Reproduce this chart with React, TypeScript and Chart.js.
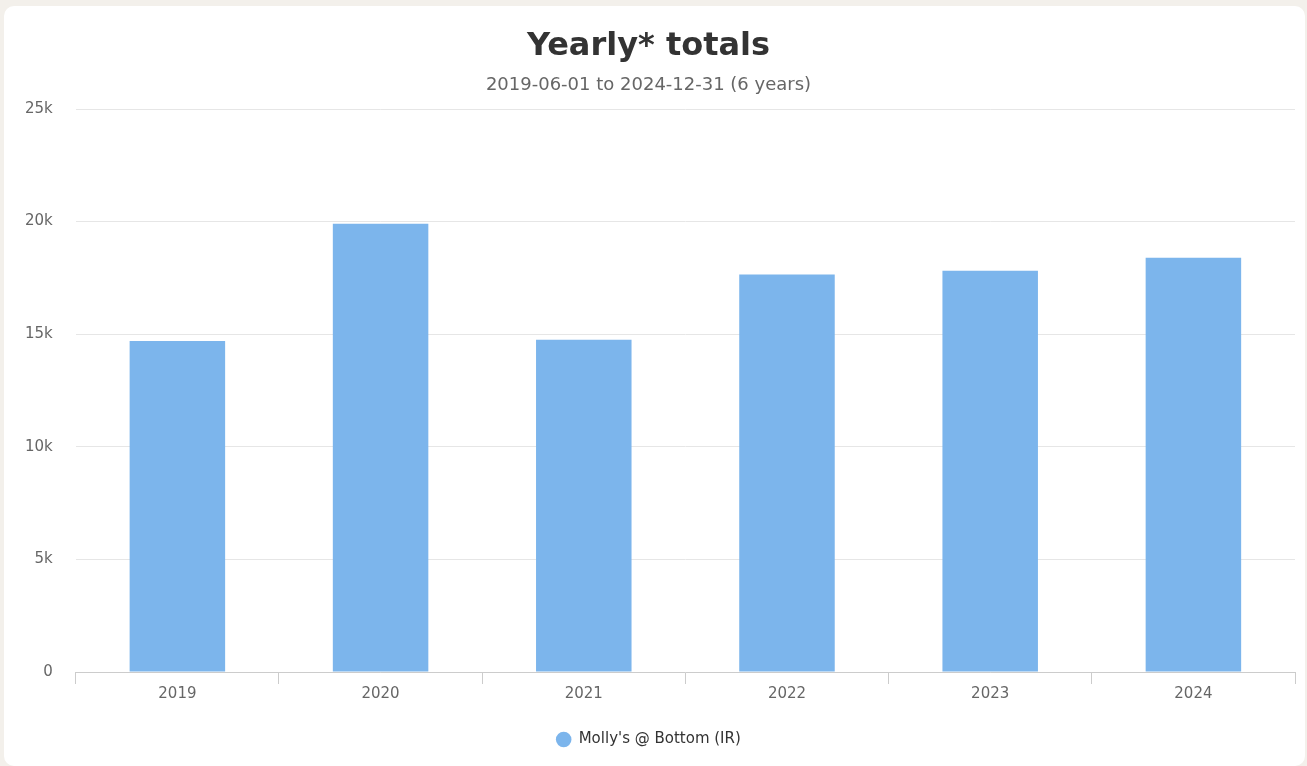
import React, { useEffect, useRef } from "react";
import { Chart, registerables } from "chart.js";

Chart.register(...registerables);

const categories = ["2019", "2020", "2021", "2022", "2023", "2024"];
const seriesName = "Molly's @ Bottom (IR)";
const seriesValues = [14700, 19900, 14750, 17650, 17820, 18400];
const titleText = "Yearly* totals";
const subtitleText = "2019-06-01 to 2024-12-31 (6 years)";
const yTicks = [0, 5000, 10000, 15000, 20000, 25000];

const FONT = "'DejaVu Sans', 'Lucida Grande', Arial, sans-serif";

export default function App() {
  const ref = useRef<HTMLCanvasElement | null>(null);

  useEffect(() => {
    if (!ref.current) return;
    const chart = new Chart(ref.current, {
      type: "bar",
      data: {
        labels: categories,
        datasets: [
          {
            label: seriesName,
            data: seriesValues,
            backgroundColor: "#7cb5ec",
            borderWidth: 0,
            barPercentage: 0.47,
            categoryPercentage: 1,
          },
        ],
      },
      options: {
        responsive: false,
        animation: false,
        maintainAspectRatio: false,
        layout: { padding: { left: -2, right: 10, top: 0, bottom: 9 } },
        plugins: {
          title: {
            display: true,
            text: titleText,
            color: "#333333",
            font: { family: FONT, size: 32, weight: "bold" },
            padding: { top: 21, bottom: 9 },
          },
          subtitle: {
            display: true,
            text: subtitleText,
            color: "#666666",
            font: { family: FONT, size: 18 },
            padding: { top: 0, bottom: 13 },
          },
          legend: {
            position: "bottom",
            labels: {
              usePointStyle: true,
              pointStyle: "circle",
              boxWidth: 18,
              boxHeight: 11,
              color: "#333333",
              font: { family: FONT, size: 15 },
              padding: 28,
            },
          },
          tooltip: { enabled: false },
        },
        scales: {
          x: {
            grid: {
              display: true,
              offset: true,
              drawOnChartArea: false,
              drawTicks: true,
              tickLength: 12,
              color: "#cccccc",
            },
            border: { display: true, color: "#cccccc" },
            ticks: {
              color: "#666666",
              font: { family: FONT, size: 15 },
              padding: 1,
            },
          },
          y: {
            min: 0,
            max: 25000,
            afterBuildTicks: (axis: any) => {
              axis.ticks = yTicks.map((v) => ({ value: v }));
            },
            grid: { color: "#e6e6e6", drawTicks: false },
            border: { display: false },
            ticks: {
              color: "#666666",
              font: { family: FONT, size: 15 },
              padding: 23,
              callback: (v: any) => (Number(v) === 0 ? "0" : Number(v) / 1000 + "k"),
            },
          },
        },
      },
    });
    return () => chart.destroy();
  }, []);

  return (
    <div style={{ position: "fixed", inset: 0, background: "#f3f0eb" }}>
      <div
        style={{
          position: "absolute",
          left: 4,
          top: 6,
          width: 1301,
          height: 760,
          background: "#ffffff",
          borderRadius: 10,
          overflow: "hidden",
        }}
      >
        <canvas ref={ref} width={1301} height={760} style={{ display: "block" }} />
      </div>
    </div>
  );
}
